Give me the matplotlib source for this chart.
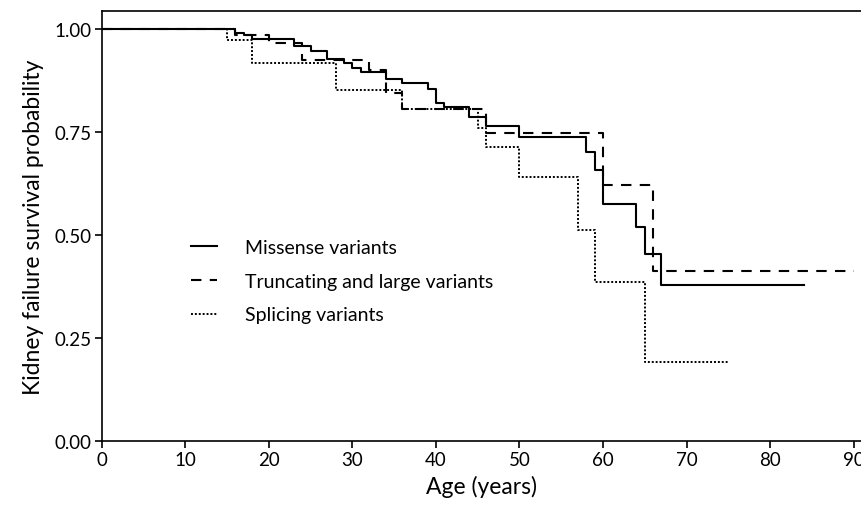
import numpy as np
import matplotlib
matplotlib.use('Agg')
import matplotlib.pyplot as plt

plt.rcParams['font.family'] = ['Lato', 'DejaVu Sans']

# Kaplan-Meier steps (age in years, survival probability)
missense_t = [0, 16, 17, 18, 23, 25, 27, 29, 30, 31, 34, 36, 39, 40, 41, 44, 46, 50, 58, 59, 60, 64, 65, 67, 84]
missense_s = [1.0, 0.992, 0.986, 0.977, 0.959, 0.947, 0.927, 0.917, 0.907, 0.895, 0.880, 0.869, 0.854,
              0.822, 0.810, 0.788, 0.765, 0.739, 0.702, 0.659, 0.575, 0.520, 0.454, 0.379, 0.379]

trunc_t = [0, 16, 20, 24, 32, 34, 36, 46, 60, 66, 90]
trunc_s = [1.0, 0.985, 0.966, 0.926, 0.900, 0.844, 0.806, 0.749, 0.621, 0.412, 0.412]

splice_t = [0, 15, 18, 28, 36, 45, 46, 50, 57, 59, 65, 75]
splice_s = [1.0, 0.975, 0.919, 0.853, 0.806, 0.761, 0.713, 0.642, 0.513, 0.386, 0.193, 0.193]

labels = ['Missense variants', 'Truncating and large variants', 'Splicing variants']

fig = plt.figure(figsize=(8.62, 5.06), dpi=100)
ax = fig.add_axes([0.118, 0.1265, 1.0 - 0.118, 0.976 - 0.1265])

ax.step(missense_t, missense_s, where='post', color='black', lw=1.5, ls='-', label=labels[0])
ax.step(trunc_t, trunc_s, where='post', color='black', lw=1.5, ls=(0, (5, 4)), label=labels[1])
ax.step(splice_t, splice_s, where='post', color='black', lw=1.4, ls=(0, (1, 1)), label=labels[2])

ax.set_xlim(0, 91.0)
ax.set_ylim(0, 1.044)
ax.set_xticks(np.arange(0, 91, 10))
ax.set_yticks([0, 0.25, 0.5, 0.75, 1.0])
ax.set_yticklabels(['0.00', '0.25', '0.50', '0.75', '1.00'])
ax.tick_params(labelsize=13.5, length=5, width=1.2, pad=2)
for sp in ax.spines.values():
    sp.set_linewidth(1.2)
ax.spines['right'].set_visible(False)

ax.set_xlabel('Age (years)', fontsize=16.5, labelpad=5)
ax.set_ylabel('Kidney failure survival probability', fontsize=16.5, labelpad=8)

ax.legend(loc='upper left', bbox_to_anchor=(0.118, 0.47), frameon=False, fontsize=14,
          borderpad=0, borderaxespad=0,
          handlelength=1.3, handletextpad=1.45, labelspacing=0.86)

fig.savefig('out.png', dpi=100)
